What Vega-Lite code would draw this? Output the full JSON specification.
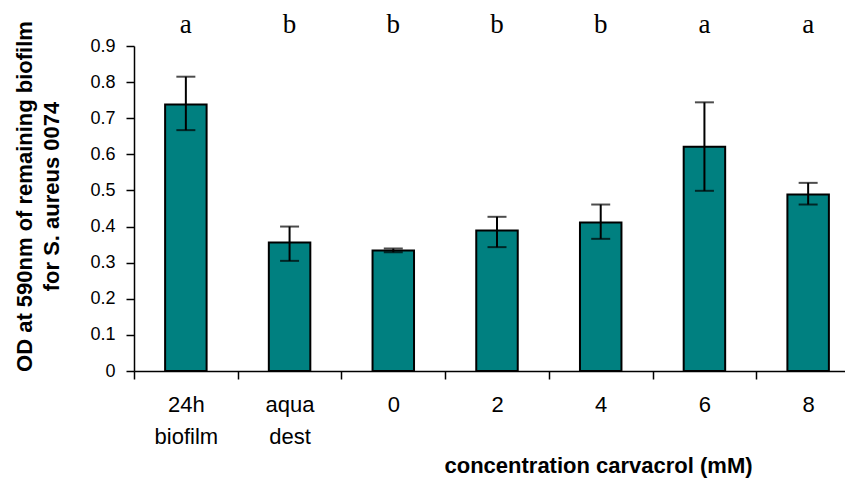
{
  "$schema": "https://vega.github.io/schema/vega-lite/v6.json",
  "autosize": "none",
  "padding": {"left": 134, "top": 46, "right": 0, "bottom": 110},
  "width": 711,
  "height": 325,
  "background": "white",
  "config": {
    "view": {"stroke": null},
    "axis": {
      "domainColor": "black",
      "domainWidth": 1.5,
      "tickColor": "black",
      "tickWidth": 1.5,
      "tickSize": 8,
      "labelColor": "black",
      "labelFont": "Liberation Sans",
      "titleColor": "black",
      "titleFont": "Liberation Sans",
      "titleFontWeight": "bold",
      "grid": false
    },
    "axisY": {
      "labelFontSize": 18,
      "labelPadding": 11,
      "format": ".1~f",
      "titleFontSize": 22,
      "titleLineHeight": 27,
      "titlePadding": 26,
      "titleY": 150,
      "tickCount": 10
    }
  },
  "data": {
    "values": [
      {"group": "24h biofilm", "od": 0.738, "lo": 0.667, "hi": 0.815, "letter": "a"},
      {"group": "aqua dest", "od": 0.356, "lo": 0.305, "hi": 0.4, "letter": "b"},
      {"group": "0", "od": 0.334, "lo": 0.329, "hi": 0.339, "letter": "b"},
      {"group": "2", "od": 0.389, "lo": 0.343, "hi": 0.427, "letter": "b"},
      {"group": "4", "od": 0.411, "lo": 0.366, "hi": 0.461, "letter": "b"},
      {"group": "6", "od": 0.621, "lo": 0.499, "hi": 0.744, "letter": "a"},
      {"group": "8", "od": 0.489, "lo": 0.461, "hi": 0.521, "letter": "a"}
    ]
  },
  "encoding": {
    "x": {
      "field": "group",
      "type": "nominal",
      "sort": null,
      "scale": {"range": [0, 726], "paddingInner": 0, "paddingOuter": 0},
      "axis": {
        "title": "concentration carvacrol (mM)",
        "titleFontSize": 22,
        "titleAnchor": null,
        "titleAlign": "center",
        "titleBaseline": "alphabetic",
        "titleX": 464,
        "titleY": 101,
        "labelExpr": "isValid(datum.value) ? split(datum.value, ' ') : ''",
        "labelFontSize": 22,
        "labelAngle": 0,
        "labelLineHeight": 32,
        "labelPadding": 15,
        "labelBaseline": "top",
        "tickBand": "extent"
      }
    }
  },
  "layer": [
    {
      "mark": {"type": "bar", "width": {"band": 0.4}, "color": "#008080", "stroke": "black", "strokeWidth": 2},
      "encoding": {
        "y": {
          "field": "od",
          "type": "quantitative",
          "scale": {"domain": [0, 0.9], "nice": false},
          "title": ["OD at 590nm of remaining biofilm", "for S. aureus 0074"]
        }
      }
    },
    {
      "mark": {"type": "rule", "color": "black", "strokeWidth": 2},
      "encoding": {"y": {"field": "lo", "type": "quantitative"}, "y2": {"field": "hi"}}
    },
    {
      "mark": {"type": "tick", "color": "black", "size": 19, "thickness": 2},
      "encoding": {"y": {"field": "lo", "type": "quantitative"}}
    },
    {
      "mark": {"type": "tick", "color": "black", "size": 19, "thickness": 2},
      "encoding": {"y": {"field": "hi", "type": "quantitative"}}
    },
    {
      "mark": {"type": "text", "font": "Liberation Serif", "fontSize": 27, "color": "black", "baseline": "alphabetic"},
      "encoding": {"y": {"datum": 0.936, "type": "quantitative"}, "text": {"field": "letter"}}
    }
  ]
}
